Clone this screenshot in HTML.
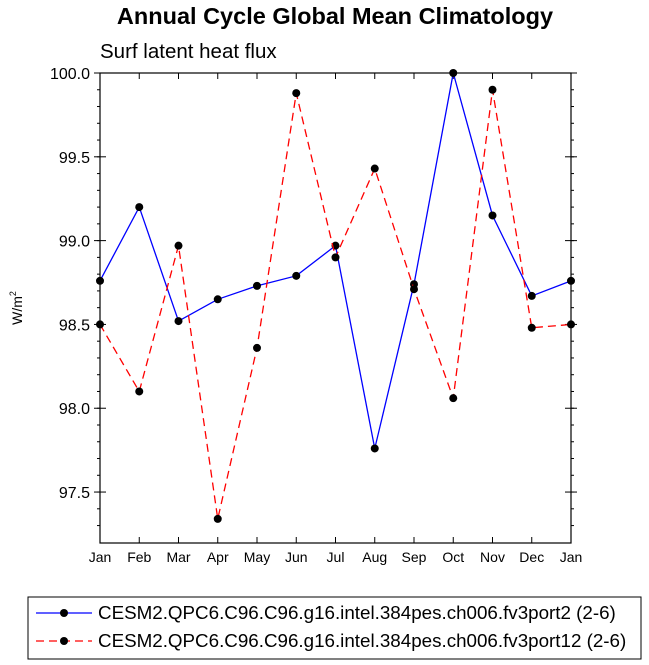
<!DOCTYPE html>
<html><head><meta charset="utf-8"><style>
body{margin:0;background:#fff;font-family:"Liberation Sans",sans-serif;}
svg{display:block}
</style></head><body>
<svg width="649" height="665">
<text x="335" y="24" text-anchor="middle" font-size="23.5" font-weight="bold">Annual Cycle Global Mean Climatology</text>
<text x="100" y="58" font-size="20.5">Surf latent heat flux</text>
<g id="plot"></g>
<g>
<rect x="28" y="597" width="613" height="62" fill="#fff" stroke="#000"/>
<line x1="36" y1="613" x2="92" y2="613" stroke="#00f" stroke-width="1.3"/>
<circle cx="64" cy="613" r="4" fill="#000"/>
<text x="98" y="619" font-size="18.8">CESM2.QPC6.C96.C96.g16.intel.384pes.ch006.fv3port2 (2-6)</text>
<line x1="36" y1="641" x2="92" y2="641" stroke="#f00" stroke-width="1.3" stroke-dasharray="8,5"/>
<circle cx="64" cy="641" r="4" fill="#000"/>
<text x="98" y="647" font-size="18.8">CESM2.QPC6.C96.C96.g16.intel.384pes.ch006.fv3port12 (2-6)</text>
</g>
</svg>
<script>
const months=["Jan","Feb","Mar","Apr","May","Jun","Jul","Aug","Sep","Oct","Nov","Dec","Jan"];
const blueVals=[98.76,99.20,98.52,98.65,98.73,98.79,98.97,97.76,98.74,100.0,99.15,98.67,98.76];
const redVals=[98.50,98.10,98.97,97.34,98.36,99.88,98.90,99.43,98.71,98.06,99.90,98.48,98.50];
const yTicks=[97.5,98.0,98.5,99.0,99.5,100.0];
const L=100,R=571,T=73,B=543,yMin=97.196,yMax=100.0;
const sx=i=>L+(R-L)*i/(months.length-1);
const sy=v=>B-(v-yMin)/(yMax-yMin)*(B-T);
const NS="http://www.w3.org/2000/svg";
const g=document.getElementById('plot');
function mk(t,a){const e=document.createElementNS(NS,t);for(const k in a)e.setAttribute(k,a[k]);g.appendChild(e);return e;}
let fr=mk('rect',{x:L,y:T,width:R-L,height:B-T,fill:'none',stroke:'#000','stroke-width':1.2});


yTicks.forEach(v=>{const y=sy(v);
mk('line',{x1:L,x2:L-6,y1:y,y2:y,stroke:'#000'});mk('line',{x1:R,x2:R+6,y1:y,y2:y,stroke:'#000'});
mk('line',{x1:L,x2:L+6,y1:y,y2:y,stroke:'#000'});mk('line',{x1:R,x2:R-6,y1:y,y2:y,stroke:'#000'});
const t=mk('text',{x:L-10,y:y+6,'text-anchor':'end','font-size':16});t.textContent=v.toFixed(1);

});
for(let v=97.3;v<100;v+=0.1){const y=sy(v);mk('line',{x1:L,x2:L-3,y1:y,y2:y,stroke:'#000'});mk('line',{x1:R,x2:R+3,y1:y,y2:y,stroke:'#000'});}
months.forEach((m,i)=>{const x=sx(i);mk('line',{x1:x,x2:x,y1:B,y2:B-6,stroke:'#000'});mk('line',{x1:x,x2:x,y1:T,y2:T+6,stroke:'#000'});
const t=mk('text',{x:x,y:B+19,'text-anchor':'middle','font-size':14});t.textContent=m;

});
const yl=mk('text',{x:0,y:0,'text-anchor':'middle','font-size':14,transform:'translate(22,308) rotate(-90)'});
yl.innerHTML='W/m<tspan font-size="9" dy="-6">2</tspan>';


function series(vals,col,dash,name){
const p=mk('polyline',{points:vals.map((v,i)=>sx(i)+','+sy(v)).join(' '),fill:'none',stroke:col,'stroke-width':1.3,'stroke-dasharray':dash});


vals.forEach((v,i)=>{const c=mk('circle',{cx:sx(i),cy:sy(v),r:4,fill:'#000'});

});}
series(blueVals,'#00f','none','blue-series');
series(redVals,'#f00','8,5','red-series');
</script>
</body></html>
